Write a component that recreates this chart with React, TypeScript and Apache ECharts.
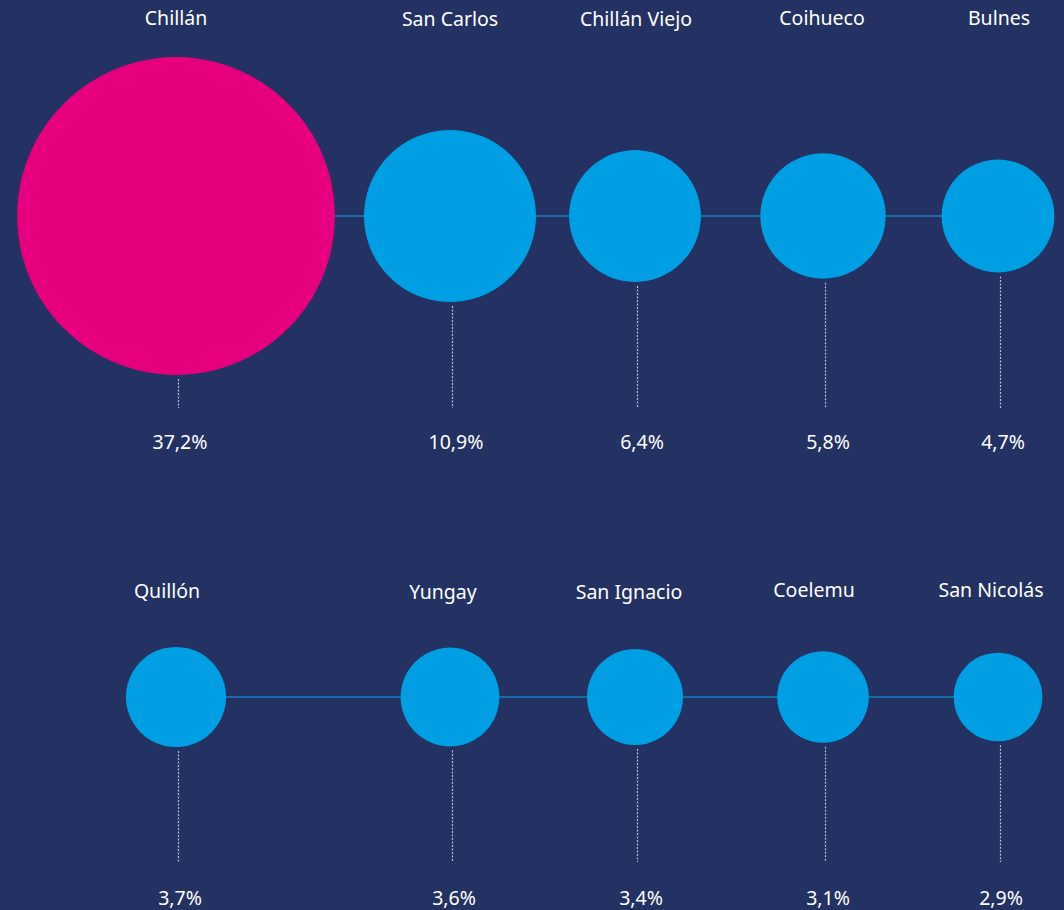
import React, { useEffect, useRef } from "react";
import * as echarts from "echarts";

// Data
const regions = [
  "Chillán", "San Carlos", "Chillán Viejo", "Coihueco", "Bulnes",
  "Quillón", "Yungay", "San Ignacio", "Coelemu", "San Nicolás",
];
const shares = [37.2, 10.9, 6.4, 5.8, 4.7, 3.7, 3.6, 3.4, 3.1, 2.9];
const shareLabels = ["37,2%", "10,9%", "6,4%", "5,8%", "4,7%", "3,7%", "3,6%", "3,4%", "3,1%", "2,9%"];

// Layout (pixel-space axes)
const W = 1064;
const H = 910;
const colX = [176, 450, 635, 823, 998];
const rowY = [216, 697];
const nameX = [[176, 450, 636, 822, 999], [167, 443, 629, 814, 991]];
const nameY = [[17, 18, 18, 17, 17], [590, 591, 591, 589, 589]];
const pctX = [[180, 456, 642, 828, 1003], [180, 454, 641, 828, 1001]];
const pctY = [441, 897];
const dashEnd = [408, 862];
const sizeK = 52.1; // diameter per sqrt(share)

const BG = "#233163";
const BLUE = "#009fe3";
const MAGENTA = "#e6007e";
const FONT = "'Noto Sans', sans-serif";

export default function App() {
  const ref = useRef<HTMLDivElement>(null);
  useEffect(() => {
    document.body.style.margin = "0";
    document.body.style.background = BG;
    const chart = echarts.init(ref.current!, null, { renderer: "svg" });

    const pts = regions.map((name, i) => {
      const r = Math.floor(i / 5);
      const c = i % 5;
      return { name, x: colX[c], y: rowY[r], v: shares[i], r, c, i };
    });

    const lineSeries = [0, 1].map((row) => ({
      type: "line",
      data: pts.filter((p) => p.r === row).map((p) => [p.x, p.y]),
      symbol: "none",
      lineStyle: { color: "#0aa6ee", width: 1.2 },
      z: 1,
      silent: true,
    }));

    const dashSeries = {
      type: "custom",
      z: 1,
      silent: true,
      data: pts.map((p) => [p.x, p.y, p.v, dashEnd[p.r]]),
      renderItem: (params: any, api: any) => {
        const x = api.value(0);
        const y = api.value(1);
        const v = api.value(2);
        const end = api.value(3);
        const c = api.coord([x, y]);
        const e = api.coord([x, end]);
        const rad = (sizeK * Math.sqrt(v)) / 2;
        return {
          type: "line",
          shape: { x1: c[0] + 2.5, y1: c[1] + rad + 4, x2: e[0] + 2.5, y2: e[1] },
          style: { stroke: "#b9bfd2", lineWidth: 1.2, lineDash: [2, 1.5] },
        };
      },
    };

    const bubbles = {
      type: "scatter",
      z: 3,
      data: pts.map((p) => ({
        value: [p.x, p.y, p.v],
        itemStyle: { color: p.i === 0 ? MAGENTA : BLUE, opacity: 1 },
      })),
      symbolSize: (val: number[]) => sizeK * Math.sqrt(val[2]),
    };

    const textSeries = (name: string, items: { x: number; y: number; t: string }[]) => ({
      type: "custom",
      name,
      z: 4,
      silent: true,
      data: items.map((d) => [d.x, d.y, d.t]),
      renderItem: (params: any, api: any) => {
        const c = api.coord([api.value(0), api.value(1)]);
        return {
          type: "text",
          x: c[0],
          y: c[1],
          style: {
            text: items[params.dataIndex].t,
            fill: "#ffffff",
            font: `19.5px ${FONT}`,
            align: "center",
            verticalAlign: "middle",
          },
        };
      },
    });

    chart.setOption({
      animation: false,
      backgroundColor: BG,
      grid: { left: 0, right: 0, top: 0, bottom: 0 },
      xAxis: { type: "value", min: 0, max: W, show: false },
      yAxis: { type: "value", min: 0, max: H, inverse: true, show: false },
      series: [
        ...lineSeries,
        dashSeries,
        bubbles,
        textSeries("names", pts.map((p) => ({ x: nameX[p.r][p.c], y: nameY[p.r][p.c], t: p.name }))),
        textSeries("pcts", pts.map((p) => ({ x: pctX[p.r][p.c], y: pctY[p.r], t: shareLabels[p.i] }))),
      ],
    });
    return () => chart.dispose();
  }, []);
  return <div ref={ref} style={{ width: W, height: H }} />;
}
